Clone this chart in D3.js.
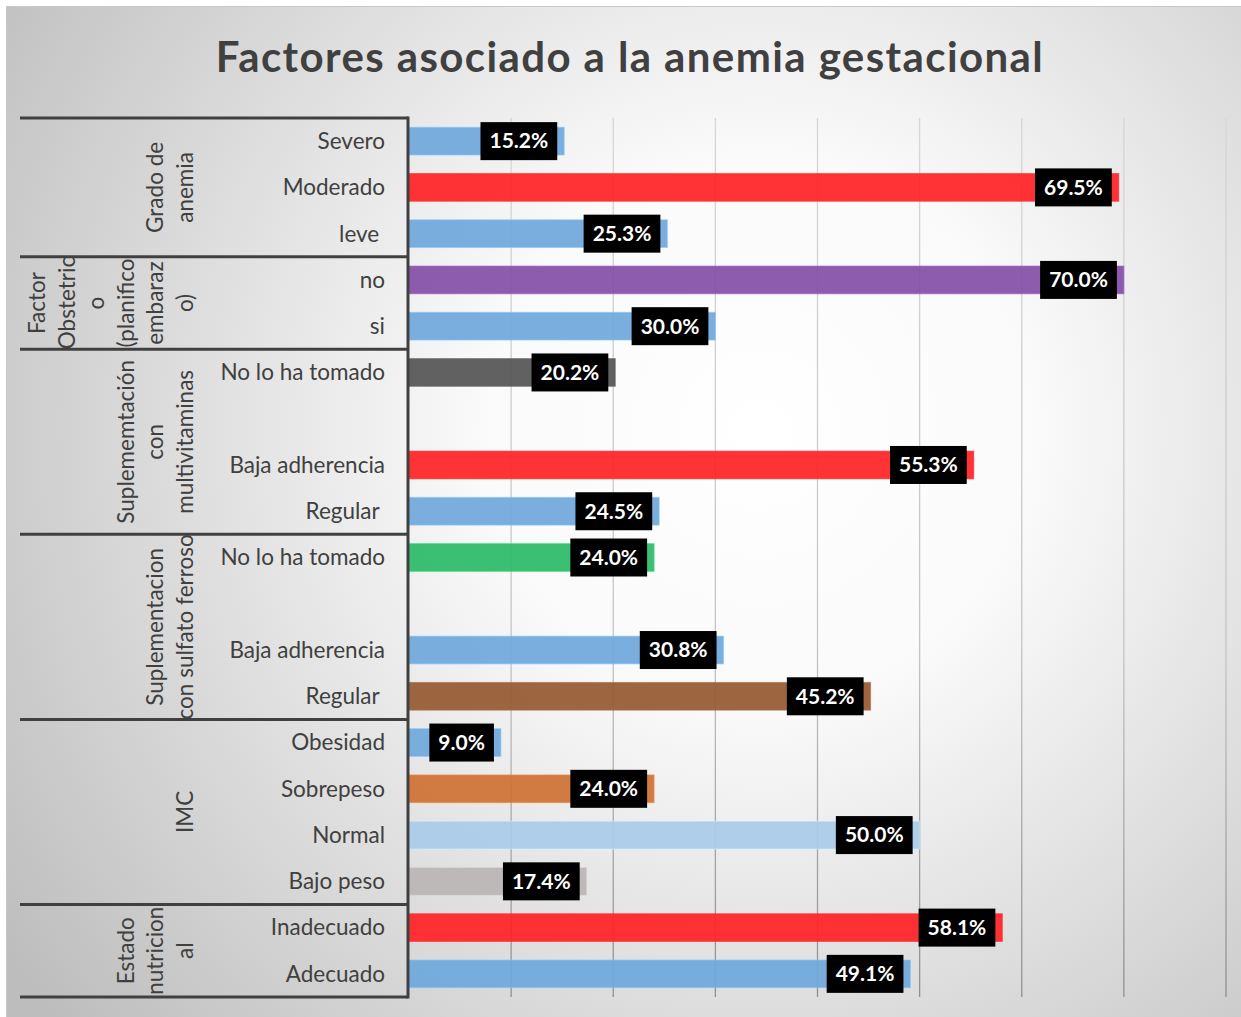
<!DOCTYPE html>
<html>
<head>
<meta charset="utf-8">
<script src="https://cdn.jsdelivr.net/npm/d3@7"></script>
<style>
  html, body { margin: 0; padding: 0; background: #fff; }
  svg { display: block; font-family: Lato, "Open Sans", sans-serif; }
</style>
</head>
<body>
<div id="chart"></div>
<script>
// datos del grafico
const groupLabels = [
    ["Grado de", "anemia"],
    ["Factor", "Obstetric", "o", "(planifico", "embaraz", "o)"],
    ["Suplememtación", "con", "multivitaminas"],
    ["Suplementacion", "con sulfato ferroso"],
    ["IMC"],
    ["Estado", "nutricion", "al"]
];
const groupSizes = [3, 2, 4, 4, 4, 2];

const categories = ["Severo", "Moderado", "leve ", "no", "si",
    "No lo ha tomado", "", "Baja adherencia", "Regular ",
    "No lo ha tomado", "", "Baja adherencia", "Regular ",
    "Obesidad", "Sobrepeso", "Normal", "Bajo peso",
    "Inadecuado", "Adecuado"];

const values = [15.2, 69.5, 25.3, 70.0, 30.0,
    20.2, null, 55.3, 24.5,
    24.0, null, 30.8, 45.2,
    9.0, 24.0, 50.0, 17.4,
    58.1, 49.1];

const barColors = ["#6fa8dc", "#ff2326", "#6fa8dc", "#8550a9", "#6fa8dc",
    "#555555", "#6fa8dc", "#ff2326", "#6fa8dc",
    "#2bba68", "#6fa8dc", "#6fa8dc", "#975a31",
    "#6fa8dc", "#cf7236", "#a9cbea", "#b9b6b5",
    "#ff2326", "#6fa8dc"];

const xTicks = [0, 10, 20, 30, 40, 50, 60, 70, 80];

const W = 1241, H = 1017;
const plot = {left: 409, right: 1226, top: 118, bottom: 997};

const svg = d3.select("#chart").append("svg")
    .attr("width", W)
    .attr("height", H);

// fondo con degradado radial
const defs = svg.append("defs");
const bg = defs.append("radialGradient")
    .attr("id", "bg")
    .attr("gradientUnits", "userSpaceOnUse")
    .attr("cx", 760).attr("cy", 430).attr("r", 920);
bg.append("stop").attr("offset", "0").attr("stop-color", "#ffffff");
bg.append("stop").attr("offset", "0.3").attr("stop-color", "#fafafa");
bg.append("stop").attr("offset", "1").attr("stop-color", "#bdbdbd");

const gridGrad = defs.append("linearGradient")
    .attr("id", "gridGrad")
    .attr("gradientUnits", "userSpaceOnUse")
    .attr("x1", 0).attr("y1", plot.top).attr("x2", 0).attr("y2", plot.bottom);
gridGrad.append("stop").attr("offset", "0").attr("stop-color", "#d6d6d6");
gridGrad.append("stop").attr("offset", "0.6").attr("stop-color", "#c4c4c4");
gridGrad.append("stop").attr("offset", "1").attr("stop-color", "#8f8f8f");

svg.append("rect")
    .attr("x", 6.5).attr("y", 6.5)
    .attr("width", W).attr("height", H)
    .attr("fill", "url(#bg)")
    .attr("stroke", "#c8c8c8");

// titulo
svg.append("text")
    .attr("x", 630)
    .attr("y", 72)
    .attr("text-anchor", "middle")
    .attr("font-size", 42)
    .attr("font-weight", "bold")
    .attr("letter-spacing", 1.4)
    .attr("fill", "#404040")
    .text("Factores asociado a la anemia gestacional");

// escalas
const x = d3.scaleLinear()
    .domain([0, 80])
    .range([plot.left, plot.right]);

const y = d3.scaleBand()
    .domain(d3.range(categories.length))
    .range([plot.top, plot.bottom])
    .paddingInner(0.4)
    .paddingOuter(0.2);

// lineas de cuadricula
svg.append("g")
    .selectAll("line")
    .data(xTicks.slice(1))
    .enter().append("line")
    .attr("x1", d => x(d)).attr("x2", d => x(d))
    .attr("y1", plot.top).attr("y2", plot.bottom)
    .attr("stroke", "url(#gridGrad)")
    .attr("stroke-width", 1.3);

// barras
const rows = categories.map((c, i) => ({i: i, label: c, value: values[i], color: barColors[i]}));

svg.append("g")
    .selectAll("rect")
    .data(rows.filter(d => d.value !== null))
    .enter().append("rect")
    .attr("x", x(0))
    .attr("y", d => y(d.i))
    .attr("width", d => x(d.value) - x(0))
    .attr("height", y.bandwidth())
    .attr("fill", d => d.color)
    .attr("fill-opacity", 0.93)
    .attr("stroke", d => d3.color(d.color).brighter(0.5))
    .attr("stroke-opacity", 0.6)
    .attr("stroke-width", 1);

// etiquetas de datos (caja negra)
const lab = svg.append("g")
    .selectAll("g")
    .data(rows.filter(d => d.value !== null))
    .enter().append("g");

const labText = lab.append("text")
    .attr("y", d => y(d.i) + y.bandwidth() / 2)
    .attr("dy", "0.35em")
    .attr("text-anchor", "middle")
    .attr("font-size", 21)
    .attr("font-weight", "bold")
    .attr("fill", "#ffffff")
    .text(d => d.value.toFixed(1) + "%");

labText.each(function(d) {
    const w = this.getComputedTextLength() + 18;
    const right = x(d.value) - 7;
    d3.select(this.parentNode).insert("rect", "text")
        .attr("x", right - w)
        .attr("y", y(d.i) + y.bandwidth() / 2 - 19)
        .attr("width", w)
        .attr("height", 38)
        .attr("fill", "#000000");
    d3.select(this).attr("x", right - w / 2);
});

// etiquetas de categorias
svg.append("g")
    .selectAll("text")
    .data(rows)
    .enter().append("text")
    .attr("x", 385)
    .attr("y", d => y(d.i) + y.bandwidth() / 2)
    .attr("dy", "0.35em")
    .attr("text-anchor", "end")
    .attr("font-size", 22.5)
    .attr("fill", "#404040")
    .style("white-space", "pre")
    .text(d => d.label);

// grupos: lineas separadoras y titulos girados
let bounds = [0];
groupSizes.forEach(n => bounds.push(bounds[bounds.length - 1] + n));
const yEdge = k => plot.top + k * y.step();

svg.append("g")
    .selectAll("line")
    .data(bounds)
    .enter().append("line")
    .attr("x1", 20).attr("x2", 408)
    .attr("y1", d => yEdge(d)).attr("y2", d => yEdge(d))
    .attr("stroke", "#404040")
    .attr("stroke-width", 3);

svg.append("line")
    .attr("x1", 408).attr("x2", 408)
    .attr("y1", plot.top - 1.5).attr("y2", plot.bottom + 1.5)
    .attr("stroke", "#404040")
    .attr("stroke-width", 3);

const lineGap = 29.5;
groupLabels.forEach((lines, g) => {
    const cy = (yEdge(bounds[g]) + yEdge(bounds[g + 1])) / 2;
    lines.forEach((t, k) => {
        const cx = 185 - (lines.length - 1 - k) * lineGap;
        svg.append("text")
            .attr("transform", `translate(${cx},${cy}) rotate(-90)`)
            .attr("text-anchor", "middle")
            .attr("dy", "0.35em")
            .attr("font-size", 22.5)
            .attr("fill", "#404040")
            .text(t);
    });
});
</script>
</body>
</html>
